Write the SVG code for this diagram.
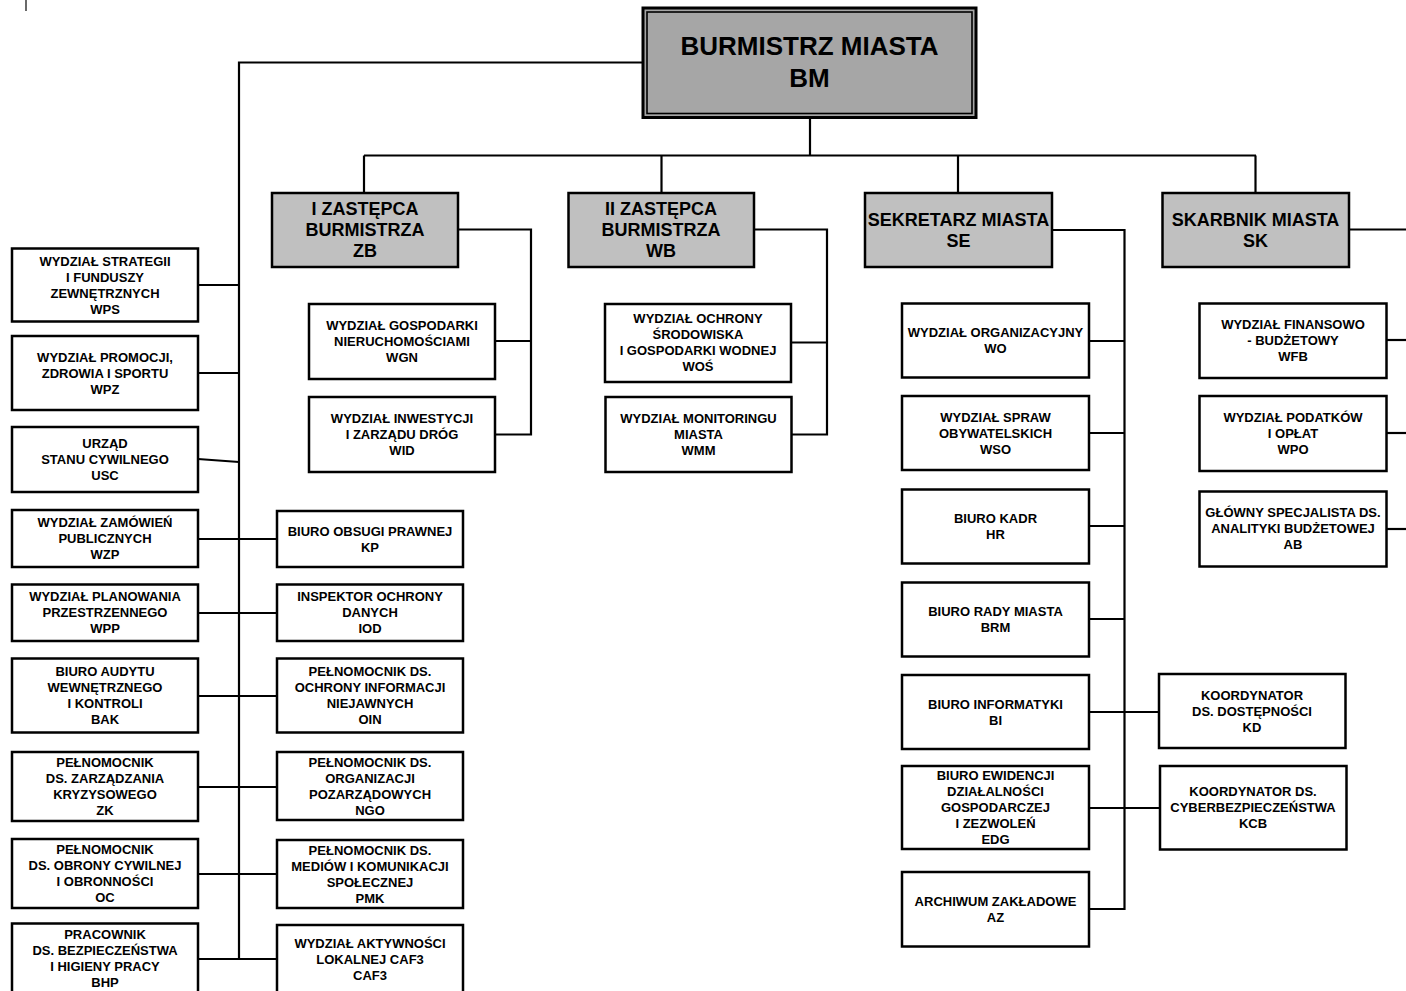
<svg xmlns="http://www.w3.org/2000/svg" width="1406" height="991" viewBox="0 0 1406 991">
<style>
.bx{fill:#ffffff;stroke:#000;stroke-width:2.5}
.dp{fill:#c0c0c0;stroke:#000;stroke-width:2.5}
.ln{fill:none;stroke:#000;stroke-width:2.2}
text{font-family:"Liberation Sans",Arial,sans-serif;font-weight:bold;fill:#000;text-anchor:middle}
.s{font-size:13px}
.m{font-size:18px}
.l{font-size:26px}
</style>
<rect x="0" y="0" width="1406" height="991" fill="#ffffff"/>
<line x1="26" y1="0" x2="26" y2="11" stroke="#444" stroke-width="1.6"/>

<g id="connectors">
<polyline class="ln" points="642,62.5 239,62.5 239,960"/>
<line class="ln" x1="810" y1="118" x2="810" y2="155.5"/>
<line class="ln" x1="364" y1="155.5" x2="1256" y2="155.5"/>
<line class="ln" x1="364" y1="155.5" x2="364" y2="192"/>
<line class="ln" x1="661.5" y1="155.5" x2="661.5" y2="192"/>
<line class="ln" x1="958" y1="155.5" x2="958" y2="192"/>
<line class="ln" x1="1255.5" y1="155.5" x2="1255.5" y2="192"/>
<!-- left column -->
<line class="ln" x1="198" y1="285" x2="239" y2="285"/>
<line class="ln" x1="198" y1="373" x2="239" y2="373"/>
<line class="ln" x1="198" y1="459" x2="239" y2="462"/>
<line class="ln" x1="198" y1="539" x2="277" y2="539"/>
<line class="ln" x1="198" y1="613" x2="277" y2="613"/>
<line class="ln" x1="198" y1="696" x2="277" y2="696"/>
<line class="ln" x1="198" y1="787" x2="277" y2="787"/>
<line class="ln" x1="198" y1="874" x2="277" y2="874"/>
<line class="ln" x1="198" y1="959" x2="277" y2="959"/>
<!-- I deputy -->
<polyline class="ln" points="458,229.5 531,229.5 531,434.5 495,434.5"/>
<line class="ln" x1="495" y1="341" x2="531" y2="341"/>
<!-- II deputy -->
<polyline class="ln" points="754,229.5 827,229.5 827,434.5 791,434.5"/>
<line class="ln" x1="791" y1="342.5" x2="827" y2="342.5"/>
<!-- Sekretarz -->
<polyline class="ln" points="1052,230 1124.5,230 1124.5,909 1089,909"/>
<line class="ln" x1="1089" y1="341" x2="1124.5" y2="341"/>
<line class="ln" x1="1089" y1="433" x2="1124.5" y2="433"/>
<line class="ln" x1="1089" y1="526" x2="1124.5" y2="526"/>
<line class="ln" x1="1089" y1="619" x2="1124.5" y2="619"/>
<line class="ln" x1="1089" y1="712" x2="1159" y2="712"/>
<line class="ln" x1="1089" y1="808" x2="1160" y2="808"/>
<!-- Skarbnik -->
<line class="ln" x1="1349" y1="229.5" x2="1406" y2="229.5"/>
<line class="ln" x1="1386" y1="340" x2="1406" y2="340"/>
<line class="ln" x1="1386" y1="433" x2="1406" y2="433"/>
<line class="ln" x1="1386" y1="529" x2="1406" y2="529"/>
</g>

<g id="BM">
<rect x="643" y="8" width="333" height="109.5" fill="#a6a6a6" stroke="#000" stroke-width="3"/>
<rect x="647" y="12" width="325" height="101.5" fill="none" stroke="#000" stroke-width="1.6"/>
<text class="l" x="809.5" y="54.5">BURMISTRZ MIASTA</text>
<text class="l" x="809.5" y="86.5">BM</text>
</g>

<g id="ZB">
<rect class="dp" x="272" y="193" width="186" height="74"/>
<text class="m" x="365" y="215">I ZASTĘPCA</text>
<text class="m" x="365" y="236">BURMISTRZA</text>
<text class="m" x="365" y="257">ZB</text>
</g>
<g id="WB">
<rect class="dp" x="568.5" y="193" width="185.5" height="74"/>
<text class="m" x="661" y="215">II ZASTĘPCA</text>
<text class="m" x="661" y="236">BURMISTRZA</text>
<text class="m" x="661" y="257">WB</text>
</g>
<g id="SE">
<rect class="dp" x="865" y="193" width="187" height="74"/>
<text class="m" x="958.5" y="225.5">SEKRETARZ MIASTA</text>
<text class="m" x="958.5" y="246.5">SE</text>
</g>
<g id="SK">
<rect class="dp" x="1162.5" y="193" width="186.5" height="74"/>
<text class="m" x="1255.5" y="225.5">SKARBNIK MIASTA</text>
<text class="m" x="1255.5" y="246.5">SK</text>
</g>

<!-- left column -->
<g id="WPS">
<rect class="bx" x="12" y="248.5" width="186" height="73"/>
<text class="s" x="105" y="265.5">WYDZIAŁ STRATEGII</text>
<text class="s" x="105" y="281.5">I FUNDUSZY</text>
<text class="s" x="105" y="297.5">ZEWNĘTRZNYCH</text>
<text class="s" x="105" y="313.5">WPS</text>
</g>
<g id="WPZ">
<rect class="bx" x="12" y="336" width="186" height="74"/>
<text class="s" x="105" y="361.5">WYDZIAŁ PROMOCJI,</text>
<text class="s" x="105" y="377.5">ZDROWIA I SPORTU</text>
<text class="s" x="105" y="393.5">WPZ</text>
</g>
<g id="USC">
<rect class="bx" x="12" y="427" width="186" height="65"/>
<text class="s" x="105" y="448">URZĄD</text>
<text class="s" x="105" y="464">STANU CYWILNEGO</text>
<text class="s" x="105" y="480">USC</text>
</g>
<g id="WZP">
<rect class="bx" x="12" y="510" width="186" height="57"/>
<text class="s" x="105" y="527">WYDZIAŁ ZAMÓWIEŃ</text>
<text class="s" x="105" y="543">PUBLICZNYCH</text>
<text class="s" x="105" y="559">WZP</text>
</g>
<g id="WPP">
<rect class="bx" x="12" y="584.5" width="186" height="56.5"/>
<text class="s" x="105" y="601">WYDZIAŁ PLANOWANIA</text>
<text class="s" x="105" y="617">PRZESTRZENNEGO</text>
<text class="s" x="105" y="633">WPP</text>
</g>
<g id="BAK">
<rect class="bx" x="12" y="658.5" width="186" height="74"/>
<text class="s" x="105" y="676">BIURO AUDYTU</text>
<text class="s" x="105" y="692">WEWNĘTRZNEGO</text>
<text class="s" x="105" y="708">I KONTROLI</text>
<text class="s" x="105" y="724">BAK</text>
</g>
<g id="ZK">
<rect class="bx" x="12" y="752" width="186" height="69"/>
<text class="s" x="105" y="767">PEŁNOMOCNIK</text>
<text class="s" x="105" y="783">DS. ZARZĄDZANIA</text>
<text class="s" x="105" y="799">KRYZYSOWEGO</text>
<text class="s" x="105" y="815">ZK</text>
</g>
<g id="OC">
<rect class="bx" x="12" y="839" width="186" height="69"/>
<text class="s" x="105" y="854">PEŁNOMOCNIK</text>
<text class="s" x="105" y="870">DS. OBRONY CYWILNEJ</text>
<text class="s" x="105" y="886">I OBRONNOŚCI</text>
<text class="s" x="105" y="902">OC</text>
</g>
<g id="BHP">
<rect class="bx" x="12" y="923.5" width="186" height="71"/>
<text class="s" x="105" y="939">PRACOWNIK</text>
<text class="s" x="105" y="955">DS. BEZPIECZEŃSTWA</text>
<text class="s" x="105" y="971">I HIGIENY PRACY</text>
<text class="s" x="105" y="987">BHP</text>
</g>

<!-- right of main line -->
<g id="KP">
<rect class="bx" x="277" y="511" width="186" height="56"/>
<text class="s" x="370" y="535.5">BIURO OBSUGI PRAWNEJ</text>
<text class="s" x="370" y="551.5">KP</text>
</g>
<g id="IOD">
<rect class="bx" x="277" y="584.5" width="186" height="56.5"/>
<text class="s" x="370" y="601">INSPEKTOR OCHRONY</text>
<text class="s" x="370" y="617">DANYCH</text>
<text class="s" x="370" y="633">IOD</text>
</g>
<g id="OIN">
<rect class="bx" x="277" y="658.5" width="186" height="74"/>
<text class="s" x="370" y="676">PEŁNOMOCNIK DS.</text>
<text class="s" x="370" y="692">OCHRONY INFORMACJI</text>
<text class="s" x="370" y="708">NIEJAWNYCH</text>
<text class="s" x="370" y="724">OIN</text>
</g>
<g id="NGO">
<rect class="bx" x="277" y="752" width="186" height="68"/>
<text class="s" x="370" y="766.5">PEŁNOMOCNIK DS.</text>
<text class="s" x="370" y="782.5">ORGANIZACJI</text>
<text class="s" x="370" y="798.5">POZARZĄDOWYCH</text>
<text class="s" x="370" y="814.5">NGO</text>
</g>
<g id="PMK">
<rect class="bx" x="277" y="840" width="186" height="68"/>
<text class="s" x="370" y="854.5">PEŁNOMOCNIK DS.</text>
<text class="s" x="370" y="870.5">MEDIÓW I KOMUNIKACJI</text>
<text class="s" x="370" y="886.5">SPOŁECZNEJ</text>
<text class="s" x="370" y="902.5">PMK</text>
</g>
<g id="CAF3">
<rect class="bx" x="277" y="925" width="186" height="69"/>
<text class="s" x="370" y="947.5">WYDZIAŁ AKTYWNOŚCI</text>
<text class="s" x="370" y="963.5">LOKALNEJ CAF3</text>
<text class="s" x="370" y="979.5">CAF3</text>
</g>

<!-- I deputy -->
<g id="WGN">
<rect class="bx" x="309" y="304" width="186" height="75"/>
<text class="s" x="402" y="329.5">WYDZIAŁ GOSPODARKI</text>
<text class="s" x="402" y="345.5">NIERUCHOMOŚCIAMI</text>
<text class="s" x="402" y="361.5">WGN</text>
</g>
<g id="WID">
<rect class="bx" x="309" y="397" width="186" height="75"/>
<text class="s" x="402" y="422.5">WYDZIAŁ INWESTYCJI</text>
<text class="s" x="402" y="438.5">I ZARZĄDU DRÓG</text>
<text class="s" x="402" y="454.5">WID</text>
</g>

<!-- II deputy -->
<g id="WOS">
<rect class="bx" x="605" y="304" width="186" height="78"/>
<text class="s" x="698" y="323">WYDZIAŁ OCHRONY</text>
<text class="s" x="698" y="339">ŚRODOWISKA</text>
<text class="s" x="698" y="355">I GOSPODARKI WODNEJ</text>
<text class="s" x="698" y="371">WOŚ</text>
</g>
<g id="WMM">
<rect class="bx" x="605.5" y="397" width="186" height="75"/>
<text class="s" x="698.5" y="422.5">WYDZIAŁ MONITORINGU</text>
<text class="s" x="698.5" y="438.5">MIASTA</text>
<text class="s" x="698.5" y="454.5">WMM</text>
</g>

<!-- Sekretarz -->
<g id="WO">
<rect class="bx" x="902" y="303.5" width="187" height="74"/>
<text class="s" x="995.5" y="337">WYDZIAŁ ORGANIZACYJNY</text>
<text class="s" x="995.5" y="353">WO</text>
</g>
<g id="WSO">
<rect class="bx" x="902" y="396" width="187" height="74"/>
<text class="s" x="995.5" y="421.5">WYDZIAŁ SPRAW</text>
<text class="s" x="995.5" y="437.5">OBYWATELSKICH</text>
<text class="s" x="995.5" y="453.5">WSO</text>
</g>
<g id="HR">
<rect class="bx" x="902" y="489.5" width="187" height="74"/>
<text class="s" x="995.5" y="523">BIURO KADR</text>
<text class="s" x="995.5" y="539">HR</text>
</g>
<g id="BRM">
<rect class="bx" x="902" y="582.5" width="187" height="74"/>
<text class="s" x="995.5" y="615.5">BIURO RADY MIASTA</text>
<text class="s" x="995.5" y="631.5">BRM</text>
</g>
<g id="BI">
<rect class="bx" x="902" y="675" width="187" height="74"/>
<text class="s" x="995.5" y="708.5">BIURO INFORMATYKI</text>
<text class="s" x="995.5" y="724.5">BI</text>
</g>
<g id="EDG">
<rect class="bx" x="902" y="766" width="187" height="83"/>
<text class="s" x="995.5" y="780">BIURO EWIDENCJI</text>
<text class="s" x="995.5" y="796">DZIAŁALNOŚCI</text>
<text class="s" x="995.5" y="812">GOSPODARCZEJ</text>
<text class="s" x="995.5" y="828">I ZEZWOLEŃ</text>
<text class="s" x="995.5" y="844">EDG</text>
</g>
<g id="AZ">
<rect class="bx" x="902" y="872" width="187" height="74.5"/>
<text class="s" x="995.5" y="905.5">ARCHIWUM ZAKŁADOWE</text>
<text class="s" x="995.5" y="921.5">AZ</text>
</g>
<g id="KD">
<rect class="bx" x="1159" y="674" width="186.5" height="74"/>
<text class="s" x="1252" y="699.5">KOORDYNATOR</text>
<text class="s" x="1252" y="715.5">DS. DOSTĘPNOŚCI</text>
<text class="s" x="1252" y="731.5">KD</text>
</g>
<g id="KCB">
<rect class="bx" x="1160" y="766" width="186.5" height="83.5"/>
<text class="s" x="1253" y="796">KOORDYNATOR DS.</text>
<text class="s" x="1253" y="812">CYBERBEZPIECZEŃSTWA</text>
<text class="s" x="1253" y="828">KCB</text>
</g>

<!-- Skarbnik -->
<g id="WFB">
<rect class="bx" x="1199.5" y="303.5" width="187" height="74.5"/>
<text class="s" x="1293" y="329">WYDZIAŁ FINANSOWO</text>
<text class="s" x="1293" y="345">- BUDŻETOWY</text>
<text class="s" x="1293" y="361">WFB</text>
</g>
<g id="WPO">
<rect class="bx" x="1199.5" y="396" width="187" height="75"/>
<text class="s" x="1293" y="422">WYDZIAŁ PODATKÓW</text>
<text class="s" x="1293" y="438">I OPŁAT</text>
<text class="s" x="1293" y="454">WPO</text>
</g>
<g id="AB">
<rect class="bx" x="1199.5" y="491.5" width="187" height="75"/>
<text class="s" x="1293" y="517">GŁÓWNY SPECJALISTA DS.</text>
<text class="s" x="1293" y="533">ANALITYKI BUDŻETOWEJ</text>
<text class="s" x="1293" y="549">AB</text>
</g>
</svg>
